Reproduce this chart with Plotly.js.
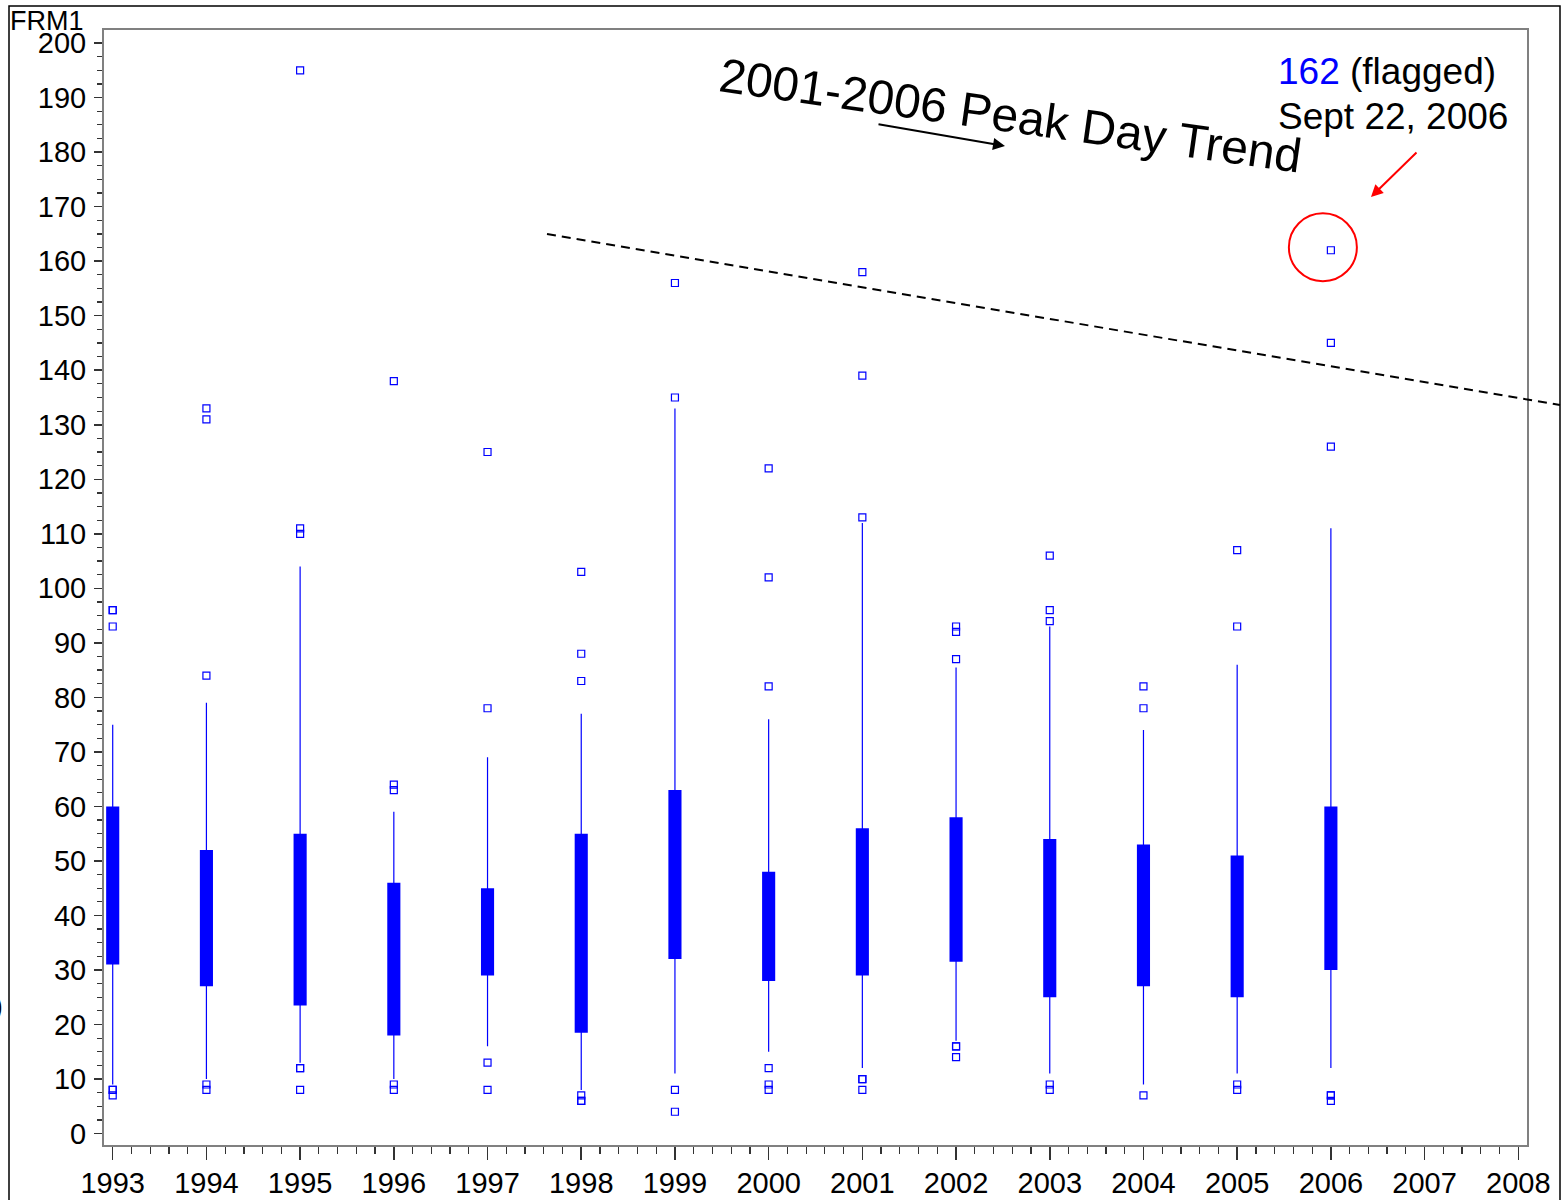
<!DOCTYPE html>
<html>
<head>
<meta charset="utf-8">
<script src="https://cdn.plot.ly/plotly-3.0.1.min.js"></script>
<style>html,body{margin:0;padding:0;background:#fff;}</style>
</head>
<body>
<div id="chart" style="width:1563px;height:1200px;"></div>
<script>
// ---- data ----
const years = [1993,1994,1995,1996,1997,1998,1999,2000,2001,2002,2003,2004,2005,2006];
const q1 =    [31, 27, 23.5, 18, 29, 18.5, 32, 28, 29, 31.5, 25, 27, 25, 30];
const q3 =    [60, 52, 55,   46, 45, 55,   63, 48, 56, 58,   54, 53, 51, 60];
const whiskerLow  = [9, 10, 13, 10, 16, 8, 11, 15, 12, 17, 11, 9, 11, 12];
const whiskerHigh = [75, 79, 104, 59, 69, 77, 133, 76, 112, 85.5, 93, 74, 86, 111];
const outliers = [
  [96, 96, 93, 8, 8, 7],
  [133, 131, 84, 9, 8],
  [195, 111, 110, 12, 12, 8],
  [138, 64, 63, 9, 8],
  [125, 78, 13, 8],
  [103, 88, 83, 7, 6, 6],
  [156, 135, 8, 4],
  [122, 102, 82, 12, 9, 8],
  [158, 139, 113, 10, 10, 8],
  [93, 92, 87, 16, 16, 14],
  [106, 96, 94, 9, 8],
  [82, 78, 7],
  [107, 93, 9, 8],
  [162, 145, 126, 7, 7, 6]
];
const xTickVals = [1993,1994,1995,1996,1997,1998,1999,2000,2001,2002,2003,2004,2005,2006,2007,2008];
const flaggedYear = 2006, flaggedValue = 162;

// ---- build traces ----
const wx = [], wy = [];
years.forEach((yr, i) => { wx.push(yr, yr, null); wy.push(whiskerLow[i], whiskerHigh[i], null); });
const ox = [], oy = [];
years.forEach((yr, i) => outliers[i].forEach(v => { ox.push(yr); oy.push(v); }));

const FONT = 'Liberation Sans, Arial, sans-serif';
const BLUE = '#0000ff';

const traces = [
  { type:'scatter', mode:'lines', x:wx, y:wy, line:{color:BLUE, width:1.2}, hoverinfo:'skip', showlegend:false },
  { type:'bar', x:years, base:q1, y:q3.map((v,i)=>v-q1[i]), width:0.14,
    marker:{color:BLUE, line:{width:0}}, showlegend:false },
  { type:'scatter', mode:'markers', x:ox, y:oy,
    marker:{symbol:'square-open', size:7, color:BLUE, line:{width:1.2, color:BLUE}}, showlegend:false }
];

const px = v => (v - 104) / 1423;      // pixel -> paper x
const py = v => (1145 - v) / 1115;     // pixel -> paper y

const layout = {
  width:1563, height:1200,
  margin:{l:104, r:36, t:30, b:55},
  paper_bgcolor:'#fff', plot_bgcolor:'#fff',
  barmode:'overlay',
  showlegend:false,
  font:{family:FONT, color:'#000'},
  xaxis:{
    range:[1992.907, 2008.093], tickvals:xTickVals, ticktext:xTickVals.map(String),
    ticks:'outside', ticklen:13, tickwidth:1.5, tickcolor:'#333',
    minor:{dtick:0.2, tick0:1993, ticks:'outside', ticklen:7, tickwidth:1.2, tickcolor:'#333'},
    showgrid:false, zeroline:false, showline:true, linecolor:'#808080', linewidth:2, mirror:true,
    tickfont:{family:FONT, size:29, color:'#000'}, ticklabelstandoff:-2
  },
  yaxis:{
    range:[-2.1, 202.4], dtick:10, tick0:0,
    ticks:'outside', ticklen:8, tickwidth:1.5, tickcolor:'#333',
    minor:{dtick:2.5, ticks:'outside', ticklen:5, tickwidth:1.2, tickcolor:'#333'},
    showgrid:false, zeroline:false, showline:true, linecolor:'#808080', linewidth:2, mirror:true,
    tickfont:{family:FONT, size:29, color:'#000'}, ticklabelstandoff:2
  },
  shapes:[
    // outer frame
    {type:'rect', xref:'paper', yref:'paper', x0:px(9), x1:px(1560), y0:py(1260), y1:py(6),
     line:{color:'#000', width:1.5}, layer:'below'},
    // trend line
    {type:'line', xref:'paper', yref:'paper', x0:px(547), y0:py(234), x1:px(1560), y1:py(405),
     line:{color:'#000', width:2, dash:'9px,6px'}},
    // red circle around flagged point
    {type:'circle', xref:'x', yref:'y', xsizemode:'pixel', ysizemode:'pixel',
     xanchor:flaggedYear, yanchor:flaggedValue, x0:-42, x1:26, y0:-31, y1:37,
     line:{color:'#ff0000', width:2}}
  ],
  annotations:[
    {xref:'paper', yref:'paper', x:px(8), y:py(21), xanchor:'left', yanchor:'middle',
     text:'FRM1', showarrow:false, font:{family:FONT, size:27, color:'#000'}},
    {xref:'paper', yref:'paper', x:px(5), y:py(1005), xanchor:'right', yanchor:'middle',
     text:')', showarrow:false, font:{family:FONT, size:30, color:'#000'}},
    {xref:'paper', yref:'paper', x:px(1010), y:py(115), xanchor:'center', yanchor:'middle',
     text:'2001-2006 Peak Day Trend', textangle:8, showarrow:false,
     font:{family:FONT, size:48, color:'#000'}},
    {xref:'paper', yref:'paper', x:px(1005), y:py(146), text:'', showarrow:true,
     ax:-128, ay:-22, arrowhead:2, arrowsize:1.2, arrowwidth:2, arrowcolor:'#000', standoff:0},
    {xref:'paper', yref:'paper', x:px(1276), y:py(72), xanchor:'left', yanchor:'middle',
     text:'<span style="color:#0000ff">162</span> (flagged)', showarrow:false,
     font:{family:FONT, size:37, color:'#000'}},
    {xref:'paper', yref:'paper', x:px(1276), y:py(117), xanchor:'left', yanchor:'middle',
     text:'Sept 22, 2006', showarrow:false, font:{family:FONT, size:37, color:'#000'}},
    {xref:'paper', yref:'paper', x:px(1371), y:py(197), text:'', showarrow:true,
     ax:47, ay:-46, arrowhead:2, arrowsize:1.2, arrowwidth:2, arrowcolor:'#ff0000', standoff:0}
  ]
};

Plotly.newPlot('chart', traces, layout, {displayModeBar:false, staticPlot:true});
</script>
</body>
</html>
